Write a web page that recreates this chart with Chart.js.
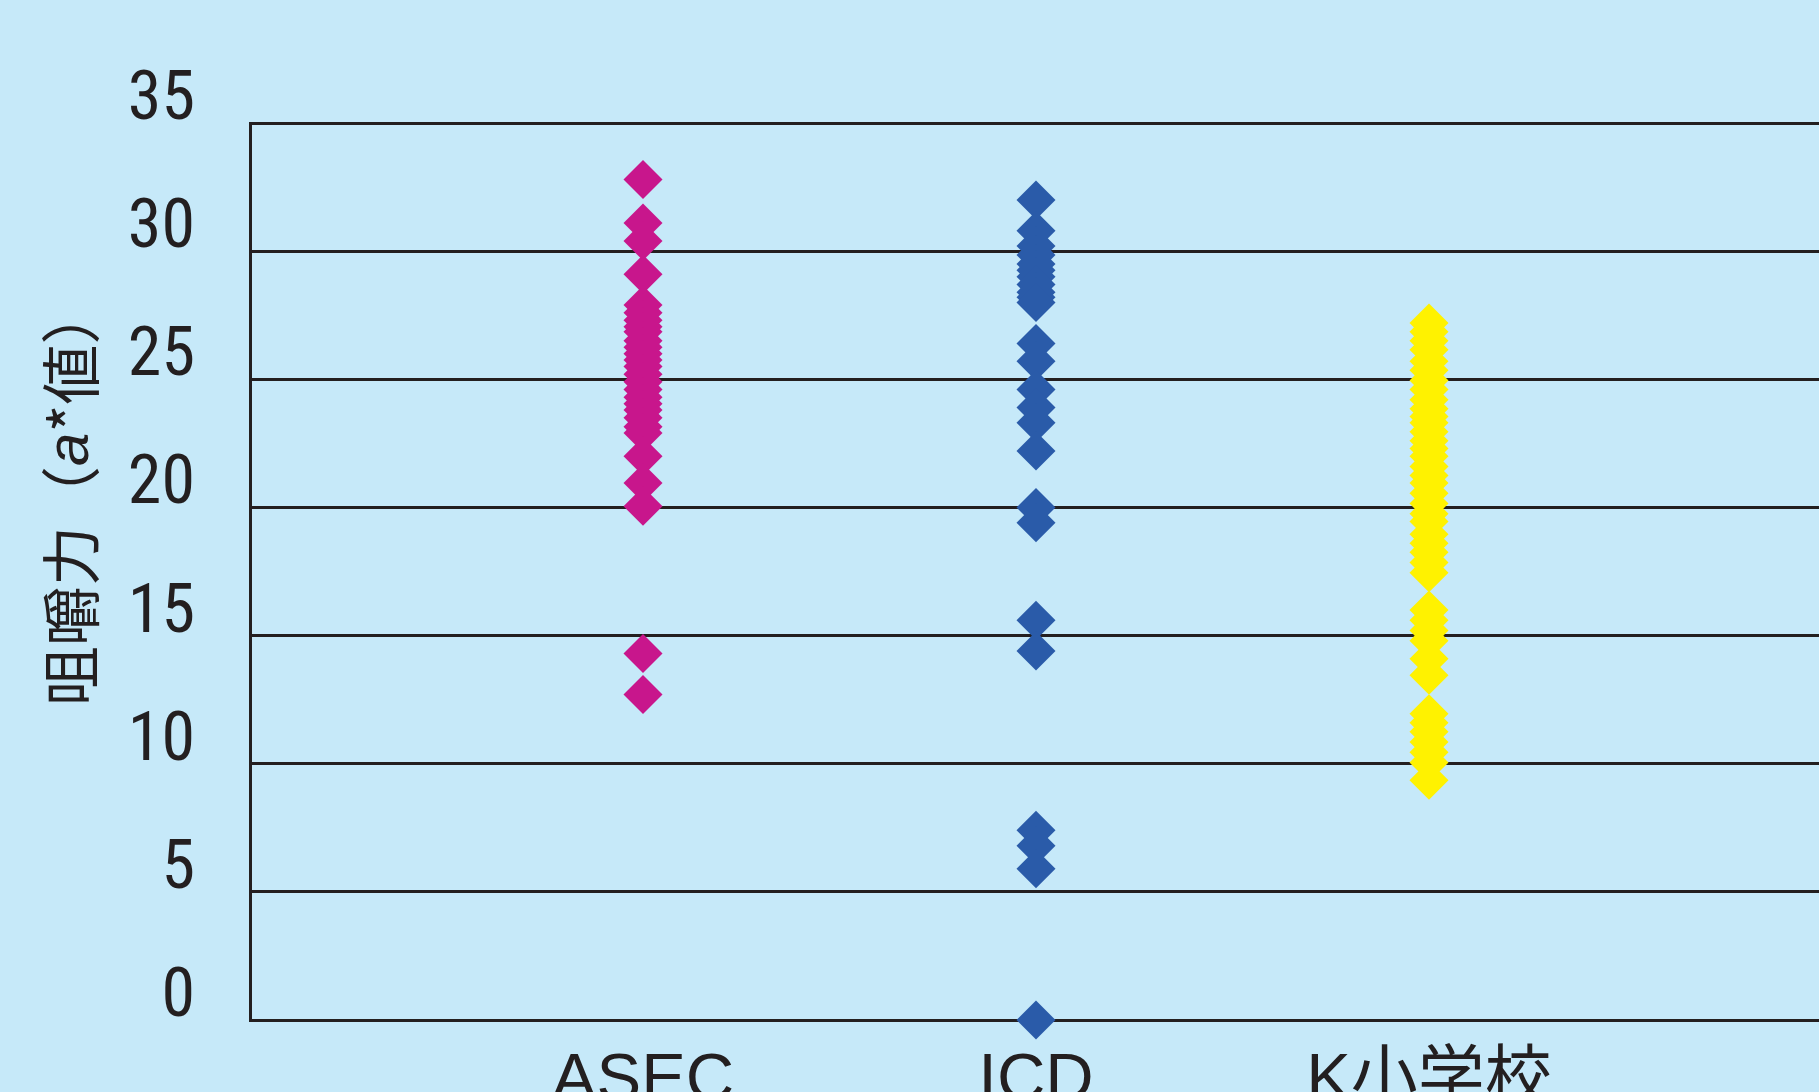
<!DOCTYPE html>
<html lang="ja">
<head>
<meta charset="utf-8">
<script src="https://cdn.jsdelivr.net/npm/chart.js@4/dist/chart.umd.min.js"></script>
<style>
  html, body { margin: 0; padding: 0; overflow: hidden; background: #C6E9F9; }
  #wrap { position: absolute; left: 0; top: 0; width: 1822px; height: 1150px; }
</style>
</head>
<body>
<div id="wrap"><canvas id="chewChart" width="1822" height="1150"></canvas></div>
<script>
// categories on the x axis
const categories = ['ASEC', 'ICD', 'K小学校'];
const axisLabels = ['', ...categories, ''];

// 咀嚼力 (a*値) per group
const asecValues = [32.8, 31.1, 30.4, 29.1, 27.9, 27.6, 27.3, 27.05, 26.85, 26.5, 26.25, 26.0,
  25.75, 25.5, 25.2, 24.9, 24.6, 24.3, 24.05, 23.8, 23.5, 23.15, 22.9, 22.0, 20.95, 20.05, 14.3, 12.7];
const icdValues = [32.0, 30.8, 30.2, 29.85, 29.5, 29.25, 29.0, 28.7, 28.4, 28.2, 28.0, 26.4, 25.7,
  24.6, 23.9, 23.3, 22.2, 20.0, 19.4, 15.6, 14.4, 7.4, 6.8, 5.9, 0];
const kValues = [27.2, 26.85, 26.5, 26.15, 25.7, 25.35, 24.95, 24.6, 24.2, 23.85, 23.55, 23.3,
  22.95, 22.6, 22.3, 22.0, 21.6, 21.25, 20.95, 20.55, 20.15, 19.75, 19.45, 18.95, 18.6, 18.25,
  17.85, 17.45, 16.0, 15.6, 15.2, 14.8, 14.1, 13.45, 11.95, 11.6, 11.25, 10.85, 10.45, 10.05, 9.35];

const yTicks = [0, 5, 10, 15, 20, 25, 30, 35];

const ink = '#231F20';

function toPoints(cat, values) {
    return values.map(v => ({ x: cat, y: v }));
}

function makeSet(cat, values, color) {
    return {
        label: cat,
        data: toPoints(cat, values),
        showLine: false,
        pointStyle: 'rectRot',
        pointRadius: 19.5,
        pointHoverRadius: 19.5,
        pointBackgroundColor: color,
        pointBorderWidth: 0,
        clip: false
    };
}

// rotated y title, with the "a" in italic
const yTitlePlugin = {
    id: 'yTitle',
    afterDraw(chart) {
        const ctx = chart.ctx;
        const area = chart.chartArea;
        const parts = [
            { t: '咀嚼力（', f: '60px "Noto Sans CJK JP"' },
            { t: 'a', f: 'italic 60px "Liberation Sans"' },
            { t: '*値）', f: '60px "Noto Sans CJK JP"' }
        ];
        ctx.save();
        let total = 0;
        parts.forEach(p => { ctx.font = p.f; p.w = ctx.measureText(p.t).width; total += p.w; });
        ctx.translate(area.left - 179, area.top + area.height * 0.415);
        ctx.rotate(-Math.PI / 2);
        ctx.fillStyle = ink;
        ctx.textBaseline = 'middle';
        ctx.textAlign = 'left';
        let x = -total / 2;
        parts.forEach(p => { ctx.font = p.f; ctx.fillText(p.t, x, 0); x += p.w; });
        ctx.restore();
    }
};

const ctx = document.getElementById('chewChart').getContext('2d');

new Chart(ctx, {
    type: 'line',
    data: {
        labels: axisLabels,
        datasets: [
            makeSet(categories[0], asecValues, '#C8168C'),
            makeSet(categories[1], icdValues, '#2A5BA9'),
            makeSet(categories[2], kValues, '#FFF200')
        ]
    },
    options: {
        responsive: false,
        animation: false,
        layout: { autoPadding: false, padding: { top: 123, left: 0, right: 0, bottom: 0 } },
        plugins: {
            legend: { display: false },
            tooltip: { enabled: false }
        },
        scales: {
            x: {
                type: 'category',
                offset: false,
                grid: { display: false, drawTicks: false },
                border: { display: true, color: ink, width: 3 },
                ticks: {
                    color: ink,
                    padding: 21,
                    autoSkip: false,
                    maxRotation: 0,
                    font: { family: '"Liberation Sans", "Noto Sans CJK JP"', size: 67 }
                },
                afterFit(scale) {
                    scale.height = 130;
                    scale.paddingLeft = 0;
                    scale.paddingRight = 0;
                }
            },
            y: {
                min: 0,
                max: 35,
                afterBuildTicks(scale) { scale.ticks = yTicks.map(v => ({ value: v })); },
                grid: { color: ink, lineWidth: 3, drawTicks: false },
                border: { display: true, color: ink, width: 3 },
                ticks: {
                    color: ink,
                    padding: 55,
                    labelOffset: -21,
                    font: { family: '"Liberation Sans Narrow", "Roboto Condensed", "DejaVu Sans Condensed", sans-serif', size: 68 }
                },
                afterFit(scale) {
                    scale.width = 250;
                    scale.paddingTop = 0;
                    scale.paddingBottom = 0;
                }
            }
        }
    },
    plugins: [yTitlePlugin]
});
</script>
</body>
</html>
